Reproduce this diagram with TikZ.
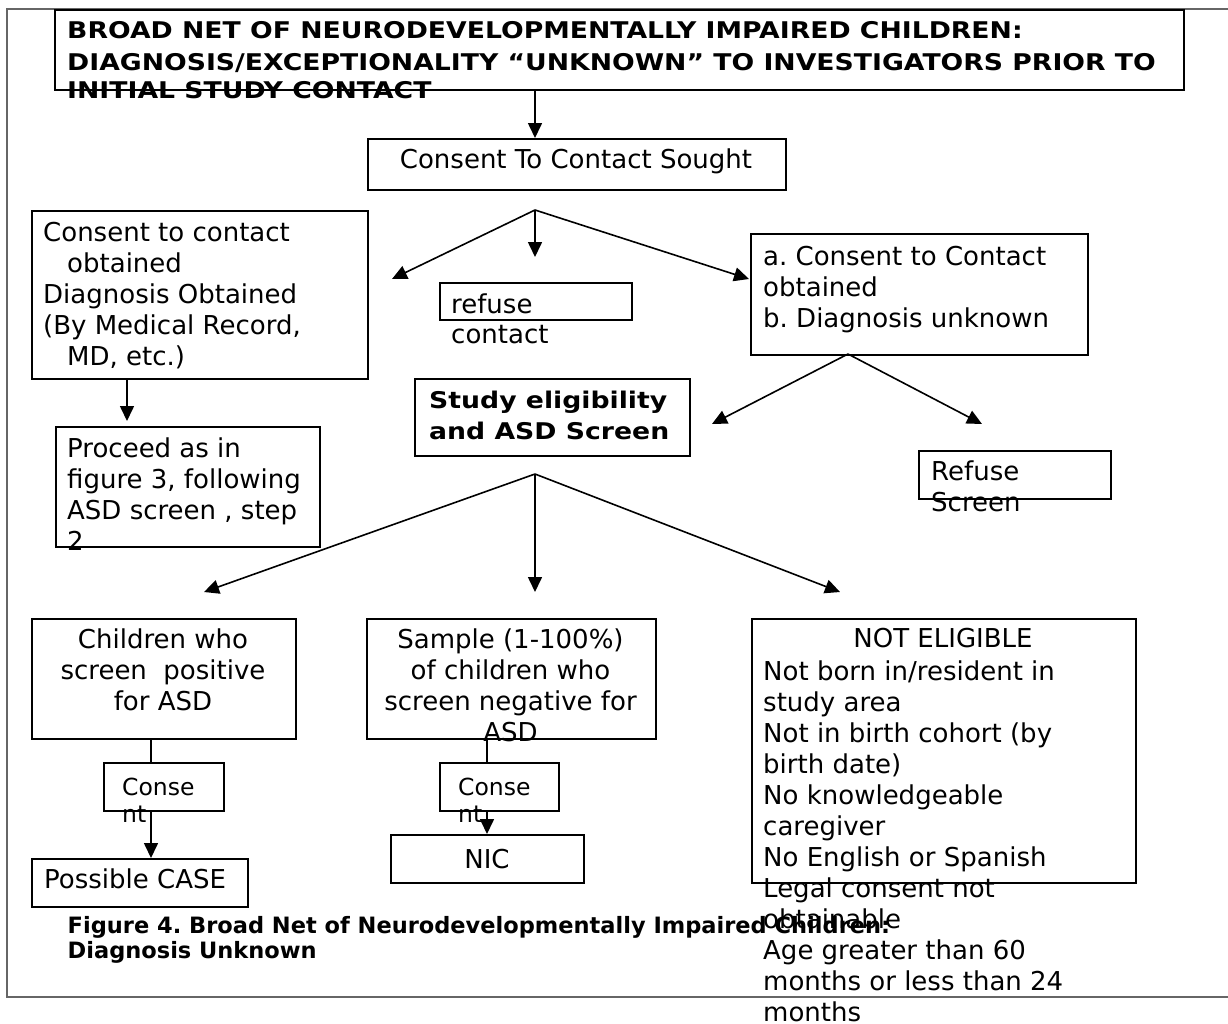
\documentclass[tikz,border=0pt]{standalone}
\usepackage{fontspec}
\setmainfont{DejaVu Sans}
\newfontfamily\titf{DejaVu Sans}[FakeStretch=1.16]
\usetikzlibrary{arrows.meta}
\frenchspacing
\tikzset{
  bx/.style={draw, line width=1.8pt, inner sep=0pt, anchor=north west},
  txt/.style={inner sep=0pt, anchor=north west, align=left, font=\fontsize{26}{31}\selectfont},
  ctxt/.style={txt, anchor=north, align=center},
  ttl/.style={txt, font=\titf\bfseries\fontsize{23}{32}\selectfont},
  captxt/.style={txt, font=\bfseries\fontsize{22.5}{25}\selectfont},
  sml/.style={txt, font=\fontsize{23.5}{27}\selectfont},
  arr/.style={line width=1.6pt, -{Triangle[length=15pt,width=14pt]}},
  ln/.style={line width=1.6pt},
  outerframe/.style={draw=black!60, line width=2pt}
}
\begin{document}
\frenchspacing
\begin{tikzpicture}[x=1pt,y=-1pt]
\useasboundingbox (0,0) rectangle (1228,1023);
% outer frame
\draw[outerframe] (1228,9) -- (7,9) -- (7,997) -- (1228,997);
% boxes
\node[bx, minimum width=1129pt, minimum height=80pt] (title) at (54,9) {};
\node[bx, minimum width=418pt, minimum height=51pt] (sought) at (367,138) {};
\node[bx, minimum width=336pt, minimum height=168pt] (leftbox) at (31,210) {};
\node[bx, minimum width=264pt, minimum height=120pt] (proceed) at (55,426) {};
\node[bx, minimum width=192pt, minimum height=37pt] (refuse) at (439,282) {};
\node[bx, minimum width=275pt, minimum height=77pt] (study) at (414,378) {};
\node[bx, minimum width=337pt, minimum height=121pt] (ab) at (750,233) {};
\node[bx, minimum width=192pt, minimum height=48pt] (refscreen) at (918,450) {};
\node[bx, minimum width=264pt, minimum height=120pt] (children) at (31,618) {};
\node[bx, minimum width=289pt, minimum height=120pt] (sample) at (366,618) {};
\node[bx, minimum width=120pt, minimum height=48pt] (cons1) at (103,762) {};
\node[bx, minimum width=119pt, minimum height=48pt] (cons2) at (439,762) {};
\node[bx, minimum width=216pt, minimum height=48pt] (possible) at (31,858) {};
\node[bx, minimum width=193pt, minimum height=48pt] (nic) at (390,834) {};
\node[bx, minimum width=384pt, minimum height=264pt] (notel) at (751,618) {};
% texts (each begins with a strut so that the first baseline is 0.7 baselineskip below the node top)
\node[ttl] (titletext) at (67,15.9) {\strut BROAD NET OF NEURODEVELOPMENTALLY IMPAIRED CHILDREN:\\DIAGNOSIS/EXCEPTIONALITY “UNKNOWN” TO INVESTIGATORS PRIOR TO\\[-4.5pt]INITIAL STUDY CONTACT};
\node[ctxt] (soughttext) at (576,146.8) {\strut Consent To Contact Sought};
\node[txt] (lefttext) at (43,219.3) {\strut Consent to contact\\\hspace*{24pt}obtained\\Diagnosis Obtained\\(By Medical Record,\\\hspace*{24pt}MD, etc.)};
\node[txt] (proceedtext) at (67,435.3) {\strut Proceed as in\\figure 3, following\\ASD screen , step\\2};
\node[txt, font=\fontsize{26}{30}\selectfont] (refusetext) at (451,292) {\strut refuse\\contact};
\node[ttl, font=\titf\bfseries\fontsize{23}{31}\selectfont] (studytext) at (429,386.6) {\strut Study eligibility\\and ASD Screen};
\node[txt] (abtext) at (763,243.3) {\strut a. Consent to Contact\\obtained\\b. Diagnosis unknown};
\node[txt, font=\fontsize{26}{31.5}\selectfont] (refscreentext) at (931,458) {\strut Refuse\\Screen};
\node[ctxt] (childrentext) at (163,626.3) {\strut Children who\\screen\ \ positive\\for ASD};
\node[ctxt] (sampletext) at (510.5,626.3) {\strut Sample (1-100\%)\\of children who\\screen negative for\\ASD};
\node[sml] (cons1text) at (122,776.1) {\strut Conse\\nt};
\node[sml] (cons2text) at (458,776.1) {\strut Conse\\nt};
\node[txt] (possibletext) at (44,866.3) {\strut Possible CASE};
\node[ctxt] (nictext) at (487,846.3) {\strut NIC};
\node[ctxt] (noteltitle) at (943,625.6) {\strut NOT ELIGIBLE};
\node[txt] (noteltext) at (763,658.3) {\strut Not born in/resident in\\study area\\Not in birth cohort (by\\birth date)\\No knowledgeable\\caregiver\\No English or Spanish\\Legal consent not\\obtainable\\Age greater than 60\\months or less than 24\\months};
\node[captxt] (caption) at (67.5,915.8) {\strut Figure 4. Broad Net of Neurodevelopmentally Impaired Children:\\Diagnosis Unknown};
% connector coordinates
\coordinate (f1) at (535,210);
\coordinate (t1l) at (392,279);
\coordinate (t1d) at (535,257);
\coordinate (t1r) at (749,279);
\coordinate (f2) at (848,354);
\coordinate (t2l) at (712,424);
\coordinate (t2r) at (982,424);
\coordinate (f3) at (535,474);
\coordinate (t3l) at (204,592);
\coordinate (t3d) at (535,592);
\coordinate (t3r) at (840,592);
\coordinate (c127) at (127,0);
\coordinate (t4) at (127,421);
\coordinate (c151) at (151,0);
\coordinate (c487) at (487,0);
% connectors
\draw[arr] (title.south -| f1) -- (sought.north -| f1);
\draw[arr] (f1) -- (t1l);
\draw[arr] (f1) -- (t1d);
\draw[arr] (f1) -- (t1r);
\draw[arr] (leftbox.south -| c127) -- (t4);
\draw[arr] (f2) -- (t2l);
\draw[arr] (f2) -- (t2r);
\draw[arr] (f3) -- (t3l);
\draw[arr] (f3) -- (t3d);
\draw[arr] (f3) -- (t3r);
\draw[ln] (children.south -| c151) -- (cons1.north -| c151);
\draw[arr] (cons1.south -| c151) -- (possible.north -| c151);
\draw[ln] (sample.south -| c487) -- (cons2.north -| c487);
\draw[arr] (cons2.south -| c487) -- (nic.north -| c487);
\end{tikzpicture}
\end{document}
